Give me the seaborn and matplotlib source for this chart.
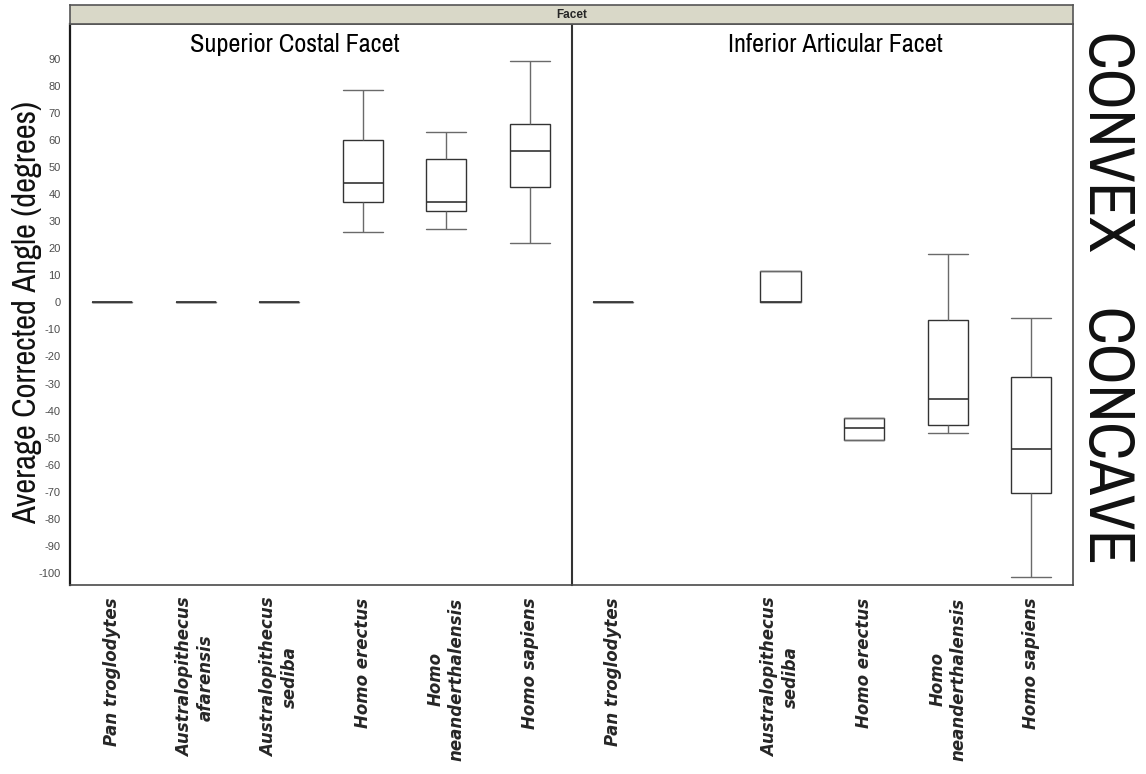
import numpy as np
import pandas as pd
import matplotlib
matplotlib.use("Agg")
import matplotlib.pyplot as plt
import matplotlib.transforms as mtrans
import seaborn as sns

sns.set_style("white")
plt.rcParams['font.family'] = ['Archivo Narrow', 'Liberation Sans', 'DejaVu Sans']
plt.rcParams['axes.unicode_minus'] = False

# ---- data (five-number summaries) ----
species = ["Pan troglodytes", "Australopithecus afarensis", "Australopithecus sediba",
           "Homo erectus", "Homo neanderthalensis", "Homo sapiens"]
tick_labels = ["Pan troglodytes", "Australopithecus\nafarensis", "Australopithecus\nsediba",
               "Homo erectus", "Homo\nneanderthalensis", "Homo sapiens"]
facets = ["Superior Costal Facet", "Inferior Articular Facet"]

# Superior Costal Facet
sup_species = ["Pan troglodytes", "Australopithecus afarensis", "Australopithecus sediba",
               "Homo erectus", "Homo neanderthalensis", "Homo sapiens"]
sup_min = [0, 0, 0, 26.0, 27.1, 21.9]
sup_q1 = [0, 0, 0, 37.0, 33.7, 42.6]
sup_med = [0, 0, 0, 44.0, 36.9, 55.9]
sup_q3 = [0, 0, 0, 59.8, 52.9, 65.9]
sup_max = [0, 0, 0, 78.3, 62.8, 89.1]

# Inferior Articular Facet
inf_species = ["Pan troglodytes", "Australopithecus sediba", "Homo erectus",
               "Homo neanderthalensis", "Homo sapiens"]
inf_min = [0, 0, -50.7, -48.3, -101.6]
inf_q1 = [0, 0, -50.7, -45.4, -70.3]
inf_med = [0, 0, -46.5, -35.6, -54.3]
inf_q3 = [0, 11.7, -42.9, -6.5, -27.6]
inf_max = [0, 11.7, -42.9, 17.8, -5.7]

rows = []
for fac, sp, mn, q1, md, q3, mx in [
        (facets[0], sup_species, sup_min, sup_q1, sup_med, sup_q3, sup_max),
        (facets[1], inf_species, inf_min, inf_q1, inf_med, inf_q3, inf_max)]:
    for i, s in enumerate(sp):
        for v in (mn[i], q1[i], md[i], q3[i], mx[i]):
            rows.append({"Facet": fac, "Species": s, "Angle": v})
df = pd.DataFrame(rows)

W, H = 1146, 774
fig, axes = plt.subplots(1, 2, figsize=(W / 100, H / 100), dpi=100, sharey=True)
left, right, bottom, top = 70.3 / W, 1073 / W, 1 - 585 / H, 1 - 24.3 / H
fig.subplots_adjust(left=left, right=right, bottom=bottom, top=top, wspace=0)

line_dark = "#333333"
line_grey = "#6a6a6a"
title_pos = [2.19, 2.65]
box_w = 0.48

for k, (ax, fac) in enumerate(zip(axes, facets)):
    sub = df[df["Facet"] == fac]
    kw = dict(data=sub, x="Species", y="Angle", order=species, ax=ax,
              width=box_w, whis=np.inf, color="white", linecolor=line_dark,
              linewidth=1.0, showfliers=False,
              boxprops=dict(facecolor="white", edgecolor=line_dark, linewidth=1.0),
              medianprops=dict(color=line_dark, linewidth=1.2),
              whiskerprops=dict(color=line_grey, linewidth=1.0),
              capprops=dict(color=line_grey, linewidth=1.0))
    try:
        sns.boxplot(capwidths=box_w, **kw)
    except TypeError:
        ax.cla()
        sns.boxplot(**kw)
    ax.set_xlim(-0.5, 5.5)
    ax.set_ylim(-104.4, 102.7)
    ax.set_xlabel("")
    ax.set_ylabel("")
    ax.set_xticks(range(len(species)))
    labs = list(tick_labels)
    if k == 1:
        labs[1] = ""
    ax.set_xticklabels(labs, rotation=90, ha="center", va="top",
                       fontsize=12, fontweight="bold", fontstyle="italic",
                       family=["DejaVu Sans"], linespacing=1.2)
    offset = mtrans.ScaledTranslation(-3 / 100, 0, fig.dpi_scale_trans)
    for lab in ax.get_xticklabels():
        lab.set_transform(lab.get_transform() + offset)
    ax.tick_params(axis="x", length=0, pad=9)
    ax.text(title_pos[k], 92.6, fac, ha="center", va="baseline", fontsize=18.9,
            color="black")
    for sp_name, spine in ax.spines.items():
        spine.set_visible(True)
        spine.set_color("#4a4a4a")
        spine.set_linewidth(1.2)
    if k == 1:
        ax.spines["left"].set_color("#333333")
        ax.spines["left"].set_linewidth(1.5)
        ax.tick_params(axis="y", left=False)
    ax.grid(False)

axes[0].set_yticks(np.arange(-100, 91, 10))
axes[0].tick_params(axis="y", length=3, width=0.6, color="#aaaaaa", pad=4,
                    labelsize=8, labelcolor="#4d4d4d")
for lab in axes[0].get_yticklabels():
    lab.set_family(["Liberation Sans", "DejaVu Sans"])
axes[0].spines["left"].set_color("#1a1a1a")
axes[0].spines["left"].set_linewidth(1.6)
axes[0].set_ylabel("")
fig.text(27.5 / W, 1 - 313 / H, "Average Corrected Angle (degrees)", rotation=90,
         ha="center", va="center", fontsize=23.5, color="#111111")

# strip header
strip = fig.add_axes([left, top, right - left, 19.3 / H])
strip.set_facecolor("#d9d8c8")
strip.set_xticks([])
strip.set_yticks([])
for s in strip.spines.values():
    s.set_color("#555555")
    s.set_linewidth(1.2)
strip.text(0.5, 0.5, "Facet", ha="center", va="center", fontsize=8.5,
           fontweight="bold", family=["Liberation Sans", "DejaVu Sans"],
           transform=strip.transAxes)

fig.text(1104 / W, 1 - 144 / H, "CONVEX", rotation=270, ha="center", va="center",
         fontsize=46, color="#111111")
fig.text(1104 / W, 1 - 438 / H, "CONCAVE", rotation=270, ha="center", va="center",
         fontsize=46, color="#111111")

fig.savefig("out.png", dpi=100)
